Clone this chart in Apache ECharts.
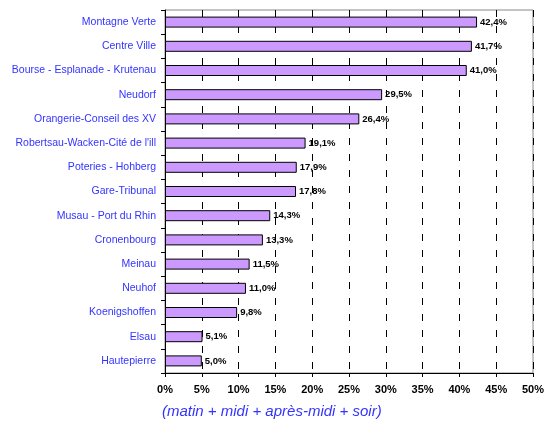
<!DOCTYPE html>
<html lang="fr">
  <head>
    <meta charset="UTF-8" />
    <title>Quartiers</title>
    <script src="https://cdn.jsdelivr.net/npm/echarts@6/dist/echarts.min.js"></script>
    <style>
      html, body { margin: 0; padding: 0; background: #fff; }
      #chart { width: 547px; height: 421px; }
    </style>
  </head>
  <body>
    <div id="chart"></div>
    <script>
      const quartiers = [
        "Montagne Verte", "Centre Ville", "Bourse - Esplanade - Krutenau",
        "Neudorf", "Orangerie-Conseil des XV", "Robertsau-Wacken-Cité de l'ill",
        "Poteries - Hohberg", "Gare-Tribunal", "Musau - Port du Rhin",
        "Cronenbourg", "Meinau", "Neuhof", "Koenigshoffen", "Elsau", "Hautepierre"
      ];
      const parts = [42.4, 41.7, 41.0, 29.5, 26.4, 19.1, 17.9, 17.8, 14.3, 13.3, 11.5, 11.0, 9.8, 5.1, 5.0];
      const ticks = [0, 5, 10, 15, 20, 25, 30, 35, 40, 45, 50];
      const sousTitre = "(matin + midi + après-midi + soir)";

      const chart = echarts.init(document.getElementById("chart"));
      const fr = v => v.toFixed(1).replace(".", ",") + "%";

      chart.setOption({
        animation: false,
        grid: {
          left: 165, right: 10, top: 10, bottom: 48,
          show: true, borderColor: "#888", borderWidth: 1
        },
        xAxis: {
          type: "value",
          min: ticks[0],
          max: ticks[ticks.length - 1],
          interval: 5,
          axisLine: { show: true, lineStyle: { color: "#000", width: 1 } },
          axisTick: { show: true, length: 4, lineStyle: { color: "#000" } },
          axisLabel: {
            color: "#000", fontWeight: "bold", fontSize: 11,
            fontFamily: "Liberation Sans", margin: 11,
            formatter: v => v + "%"
          },
          splitLine: {
            show: true,
            lineStyle: { color: "#000", type: [7, 9], width: 1 }
          }
        },
        yAxis: {
          type: "category",
          data: quartiers,
          inverse: true,
          axisLine: { show: true, lineStyle: { color: "#000", width: 1 } },
          axisTick: { show: true, length: 4, lineStyle: { color: "#000" } },
          axisLabel: {
            color: "#3333FF", fontSize: 10.5, fontFamily: "Liberation Sans", margin: 9
          }
        },
        series: [{
          type: "bar",
          data: parts,
          barWidth: 11,
          itemStyle: { color: "#CC99FF", borderColor: "#000", borderWidth: 1 },
          label: {
            show: true, position: "right", distance: 3,
            color: "#000", fontWeight: "bold", fontSize: 9.5,
            fontFamily: "Liberation Sans",
            formatter: p => fr(p.value)
          }
        }],
        graphic: [{
          type: "text",
          left: 162, top: 404,
          style: {
            text: sousTitre, fill: "#3333FF", fontSize: 15,
            fontStyle: "italic", fontFamily: "Liberation Sans"
          }
        }]
      });
    </script>
  </body>
</html>
